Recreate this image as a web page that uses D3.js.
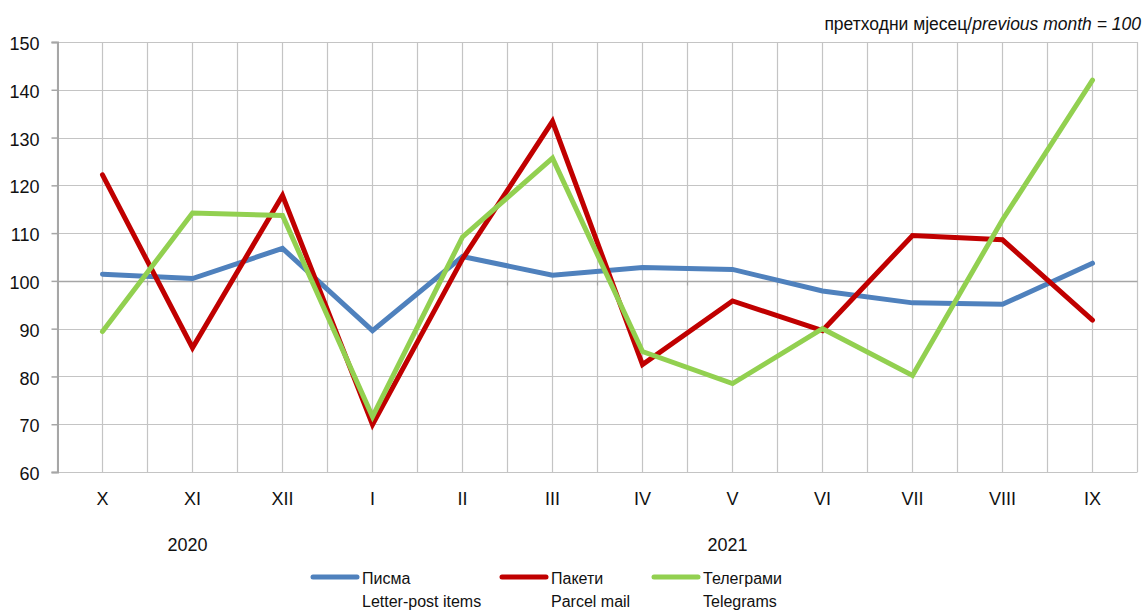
<!DOCTYPE html>
<html>
<head>
<meta charset="utf-8">
<script src="https://cdn.jsdelivr.net/npm/d3@7"></script>
<style>
  html, body { margin: 0; padding: 0; background: #fff; }
  svg { display: block; font-family: "Liberation Sans", Arial, sans-serif; }
</style>
</head>
<body>
<svg id="chart" width="1145" height="610"></svg>
<script>
const categories = ["X", "XI", "XII", "I", "II", "III", "IV", "V", "VI", "VII", "VIII", "IX"];
const years = [
  { label: "2020", from: "X", to: "XII" },
  { label: "2021", from: "I", to: "IX" }
];
const letterPost = [101.4, 100.5, 106.8, 89.6, 105.1, 101.2, 102.8, 102.4, 97.9, 95.4, 95.1, 103.7];
const parcelMail = [122.2, 86.0, 117.9, 69.9, 104.6, 133.4, 82.5, 95.8, 89.6, 109.5, 108.6, 91.8];
const telegrams  = [89.4, 114.2, 113.7, 71.6, 109.2, 125.7, 85.2, 78.5, 90.0, 80.2, 112.8, 142.0];
const yTicks = [60, 70, 80, 90, 100, 110, 120, 130, 140, 150];
const seriesNames = [
  { sr: "Писма", en: "Letter-post items" },
  { sr: "Пакети", en: "Parcel mail" },
  { sr: "Телеграми", en: "Telegrams" }
];
const seriesColors = ["#4F81BD", "#C00000", "#92D050"];
const unitNote = { sr: "претходни мјесец/", en: "previous month = 100" };

const series = [letterPost, parcelMail, telegrams];

const svg = d3.select("#chart");
const L = 57.5, R = 1137.5, T = 42, B = 472;

const x = d3.scaleBand().domain(categories).range([L, R]).paddingInner(0).paddingOuter(0);
const xc = c => x(c) + x.bandwidth() / 2;
const y = d3.scaleLinear().domain([60, 150]).range([B, T]);

// gridlines
const grid = svg.append("g");
yTicks.forEach(v => {
  grid.append("line")
    .attr("x1", L).attr("x2", R)
    .attr("y1", Math.round(y(v)) + 0.5).attr("y2", Math.round(y(v)) + 0.5)
    .attr("stroke", "#c4c4c4").attr("stroke-width", 1.2);
});
const vLines = [];
categories.forEach(c => { vLines.push(x(c)); vLines.push(xc(c)); });
vLines.push(R);
vLines.forEach(px => {
  grid.append("line")
    .attr("x1", px).attr("x2", px)
    .attr("y1", T).attr("y2", B)
    .attr("stroke", "#c4c4c4").attr("stroke-width", 1.2);
});

// horizontal category axis at 100
const y100 = Math.round(y(100)) + 0.5;
svg.append("line")
  .attr("x1", L).attr("x2", R).attr("y1", y100).attr("y2", y100)
  .attr("stroke", "#a6a6a6").attr("stroke-width", 1.6);
categories.slice(1).forEach(c => {
  svg.append("line")
    .attr("x1", x(c)).attr("x2", x(c)).attr("y1", y100).attr("y2", y100 + 4)
    .attr("stroke", "#a6a6a6").attr("stroke-width", 1.2);
});

// left axis
const yAxis = d3.axisLeft(y).tickValues(yTicks).tickSize(6).tickPadding(12).tickFormat(d3.format("d"));
const gy = svg.append("g").attr("transform", `translate(${L},0)`).call(yAxis);
gy.select(".domain").attr("stroke", "#a6a6a6").attr("stroke-width", 2);
gy.selectAll(".tick line").attr("stroke", "#a6a6a6").attr("stroke-width", 1.5);
gy.selectAll(".tick text").attr("font-size", 18).attr("fill", "#111")
  .attr("font-family", "Liberation Sans, Arial, sans-serif").attr("dy", "0.42em");

// category labels
const xAxis = d3.axisBottom(x).tickSize(0).tickPadding(20);
const gx = svg.append("g").attr("transform", `translate(0,${B})`).call(xAxis);
gx.select(".domain").remove();
gx.selectAll(".tick text").attr("font-size", 18).attr("fill", "#111")
  .attr("font-family", "Liberation Sans, Arial, sans-serif");

// year labels
years.forEach(yr => {
  const cx = (xc(yr.from) + xc(yr.to)) / 2 - 5;
  svg.append("text").attr("x", cx).attr("y", 551)
    .attr("text-anchor", "middle").attr("font-size", 18).attr("fill", "#111")
    .text(yr.label);
});

// lines
const line = d3.line().x((d, i) => xc(categories[i])).y(d => y(d));
series.forEach((s, i) => {
  svg.append("path").datum(s)
    .attr("d", line)
    .attr("fill", "none")
    .attr("stroke", seriesColors[i])
    .attr("stroke-width", 5)
    .attr("stroke-linejoin", "miter")
    .attr("stroke-miterlimit", 10)
    .attr("stroke-linecap", "round");
});

// unit note
const note = svg.append("text").attr("x", 1141).attr("y", 30)
  .attr("text-anchor", "end").attr("font-size", 17.5).attr("fill", "#111");
note.append("tspan").text(unitNote.sr);
note.append("tspan").attr("font-style", "italic").text(unitNote.en);

// legend
const legendX = [311, 500, 652];
seriesNames.forEach((n, i) => {
  const g = svg.append("g");
  g.append("line").attr("x1", legendX[i] + 2).attr("x2", legendX[i] + 46)
    .attr("y1", 577).attr("y2", 577)
    .attr("stroke", seriesColors[i]).attr("stroke-width", 5).attr("stroke-linecap", "round");
  g.append("text").attr("x", legendX[i] + 51).attr("y", 584)
    .attr("font-size", 16).attr("fill", "#111").text(n.sr);
  g.append("text").attr("x", legendX[i] + 51).attr("y", 607)
    .attr("font-size", 16).attr("fill", "#111").text(n.en);
});
</script>
</body>
</html>
